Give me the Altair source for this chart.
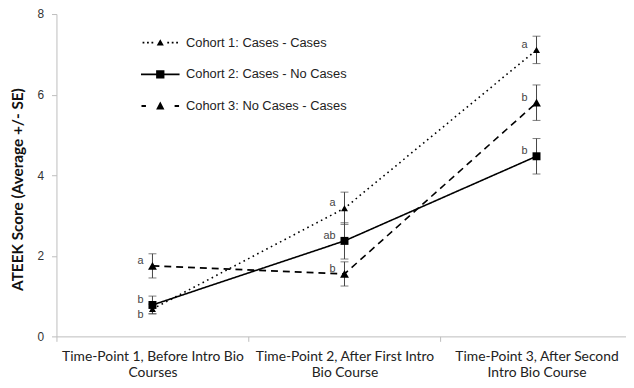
import altair as alt
import pandas as pd

categories = [
    "Time-Point 1, Before Intro Bio Courses",
    "Time-Point 2, After First Intro Bio Course",
    "Time-Point 3, After Second Intro Bio Course",
]
category_lines = [
    ["Time-Point 1, Before Intro Bio", "Courses"],
    ["Time-Point 2, After First Intro", "Bio Course"],
    ["Time-Point 3, After Second", "Intro Bio Course"],
]
cohorts = [
    "Cohort 1: Cases - Cases",
    "Cohort 2: Cases - No Cases",
    "Cohort 3: No Cases - Cases",
]
means1 = [0.68, 3.18, 7.11]
se1 = [0.12, 0.40, 0.34]
means2 = [0.78, 2.37, 4.47]
se2 = [0.22, 0.45, 0.44]
means3 = [1.75, 1.55, 5.80]
se3 = [0.30, 0.30, 0.44]
letters1 = ["b", "a", "a"]
letters2 = ["b", "ab", "b"]
letters3 = ["a", "b", "b"]

rows = []
for ci, (m, s, l) in enumerate([(means1, se1, letters1), (means2, se2, letters2), (means3, se3, letters3)]):
    for ti, cat in enumerate(categories):
        rows.append({
            "cohort": cohorts[ci],
            "time": cat,
            "mean": m[ti],
            "lo": m[ti] - s[ti],
            "hi": m[ti] + s[ti],
            "letter": l[ti],
            "below": 1 if (ci == 0 and ti == 0) else 0,
        })
df = pd.DataFrame(rows)

# category slot position (band centre = index + 0.5)
cat_list = "[" + ",".join(f"'{c}'" for c in categories) + "]"
slot_expr = f"indexof({cat_list}, datum.time) + 0.5"

expr = "''"
for i, lines in reversed(list(enumerate(category_lines))):
    expr = f"datum.value == {i + 0.5} ? {lines} : " + expr
label_expr = expr

def rect(x1, x2, h):
    return f"M{x1},{-h}H{x2}V{h}H{x1}Z"

def tri(w, top, bot):
    return f"M0,{top}L{w},{bot}L{-w},{bot}Z"

dots = "".join(rect(x - 0.09, x + 0.09, 0.09) for x in [-1.7, -1.25, -0.8, 0.8, 1.25, 1.7])
path1 = dots + tri(0.36, -0.34, 0.28)
path2 = rect(-1.95, 1.95, 0.085) + "M-0.42,-0.42H0.42V0.42H-0.42Z"
path3 = rect(-1.9, -1.45, 0.09) + rect(1.45, 1.9, 0.09) + tri(0.42, -0.46, 0.36)

xscale = alt.Scale(domain=[0, 2.966], nice=False, zero=False)
label_axis = alt.Axis(
    title=None,
    orient="bottom",
    values=[0.5, 1.5, 2.5],
    ticks=False,
    domain=False,
    grid=False,
    labelExpr=label_expr,
    labelAngle=0,
    labelFont="Lato",
    labelFontSize=14,
    labelColor="#222",
    labelPadding=13,
    labelLineHeight=17,
    labelLimit=400,
    labelFlush=False,
    labelOverlap=False,
)
tick_axis = alt.Axis(
    title=None,
    orient="bottom",
    values=[0, 1, 2, 3],
    labels=False,
    grid=False,
    domainColor="#bdbdbd",
    tickColor="#bdbdbd",
    tickSize=5,
)
x_lab = alt.X("slot:Q", scale=xscale, axis=label_axis)
x_tick = alt.X("slot:Q", scale=xscale, axis=tick_axis)
x_none = alt.X("slot:Q", scale=xscale, axis=None)

yscale = alt.Scale(domain=[0, 8])
yenc = alt.Y(
    "mean:Q",
    scale=yscale,
    axis=alt.Axis(
        title="ATEEK Score  (Average +/- SE)",
        values=[0, 2, 4, 6, 8],
        grid=False,
        labelFont="Liberation Sans",
        labelFontSize=12,
        labelColor="#333",
        labelPadding=8,
        domainColor="#bdbdbd",
        tickColor="#bdbdbd",
        tickSize=5,
        titleFont="Lato",
        titleFontSize=15.5,
        titleFontWeight="bold",
        titleColor="#111",
        titleAngle=-90,
        titleX=-39,
        titleY=177,
        titleAlign="center",
        titleBaseline="middle",
    ),
)

base = alt.Chart(df).transform_calculate(slot=slot_expr)

lines = base.mark_line(color="black", strokeWidth=1.6).encode(
    x=x_lab,
    y=yenc,
    strokeDash=alt.StrokeDash(
        "cohort:N",
        scale=alt.Scale(domain=cohorts, range=[[1.6, 3.6], [1, 0], [7, 5]]),
        legend=None,
    ),
)

err_rule = base.mark_rule(color="#444", strokeWidth=1).encode(
    x=x_tick, y=alt.Y("lo:Q", scale=yscale), y2="hi:Q"
)
cap_lo = base.mark_tick(color="#444", size=8, thickness=1, orient="horizontal").encode(
    x=x_none, y=alt.Y("lo:Q", scale=yscale)
)
cap_hi = base.mark_tick(color="#444", size=8, thickness=1, orient="horizontal").encode(
    x=x_none, y=alt.Y("hi:Q", scale=yscale)
)

points = base.mark_point(filled=True, color="black", opacity=1).encode(
    x=x_none,
    y=yenc,
    shape=alt.Shape(
        "cohort:N",
        scale=alt.Scale(domain=cohorts, range=["triangle-up", "square", "triangle-up"]),
        legend=None,
    ),
    size=alt.Size(
        "cohort:N",
        scale=alt.Scale(domain=cohorts, range=[50, 80, 100]),
        legend=None,
    ),
)

legend_layer = base.mark_point(filled=True, color="black", opacity=0).encode(
    x=x_none,
    y=yenc,
    shape=alt.Shape(
        "legend_cohort:N",
        scale=alt.Scale(domain=cohorts, range=[path1, path2, path3]),
        legend=alt.Legend(
            orient="none",
            legendX=95,
            legendY=19,
            title=None,
            symbolSize=400,
            symbolOpacity=1,
            symbolFillColor="black",
            symbolStrokeWidth=0,
            labelOffset=16,
            rowPadding=15,
            labelFont="Liberation Sans",
            labelFontSize=13,
            labelColor="#222",
            labelLimit=300,
            padding=0,
        ),
    ),
).transform_calculate(legend_cohort="datum.cohort")

text_above = base.transform_filter("datum.below == 0").mark_text(
    align="right", baseline="middle", dx=-9, dy=-5,
    font="Liberation Sans", fontSize=11, color="#444",
).encode(x=x_none, y=yenc, text="letter:N")
text_below = base.transform_filter("datum.below == 1").mark_text(
    align="right", baseline="middle", dx=-9, dy=6,
    font="Liberation Sans", fontSize=11, color="#444",
).encode(x=x_none, y=yenc, text="letter:N")

chart = alt.layer(
    lines, err_rule, cap_lo, cap_hi, points, legend_layer, text_above, text_below
).resolve_scale(
    shape="independent", size="independent"
).resolve_legend(
    shape="independent"
).resolve_axis(
    x="independent"
).properties(
    width=576,
    height=326,
    autosize=alt.AutoSizeParams(type="none"),
    padding={"left": 49, "top": 4, "right": 0, "bottom": 42},
    background="white",
).configure_view(stroke=None)

chart.save("out.html", embed_options={"renderer": "svg", "actions": False})
